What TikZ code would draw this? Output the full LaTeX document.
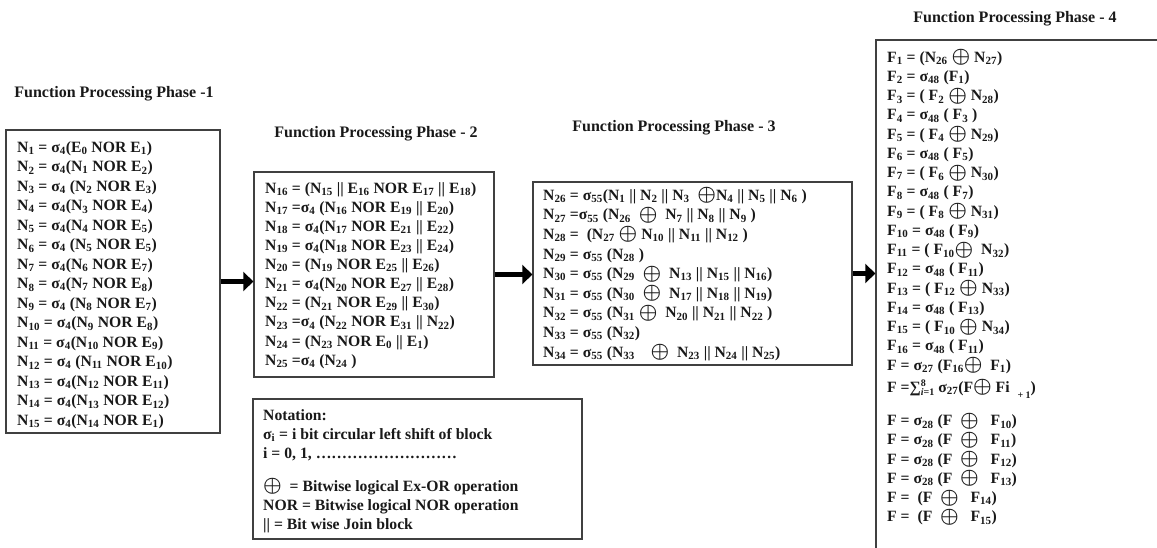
\documentclass[tikz,border=0pt]{standalone}
\usepackage{fontspec}
\setmainfont{Liberation Serif}
\usetikzlibrary{arrows.meta}
\newcommand\dn[1]{\textsubscript{#1}}
\newcommand\xop{\smash{\raisebox{-0.5pt}{\scalebox{1.45}{\boldmath$\oplus$}}}}
\newcommand\fl{\rule{0pt}{11pt}}
\newcommand\sumsign{∑\rlap{\raisebox{5.5pt}{\fontsize{10}{10}\selectfont 8}}\raisebox{-3pt}{\fontsize{10}{10}\selectfont\textit{i}=1}}
\begin{document}
\begin{tikzpicture}[x=1pt,y=-1pt,
  box/.style={draw=black!75, line width=1.3pt, inner sep=0pt},
  txt/.style={anchor=north west, inner sep=0pt, align=left, text=black!90,
    font=\fontsize{15.7}{#1}\selectfont\bfseries},
  txt/.default=19.5,
  ttl/.style={anchor=base, inner sep=0pt, text=black!90, font=\fontsize{16}{18}\selectfont\bfseries},
  fat/.style={line width=5pt, draw=black, -{Triangle[length=10pt,width=19pt]}}]
\useasboundingbox (0,0) rectangle (1157,548);

% titles
\node[ttl] (t1) at (114,98) {Function Processing Phase -1};
\node[ttl] (t2) at (376,138) {Function Processing Phase - 2};
\node[ttl] (t3) at (674,132) {Function Processing Phase - 3};
\node[ttl] (t4) at (1015,23) {Function Processing Phase - 4};

% boxes
\node[box, minimum width=214pt, minimum height=303pt] (b1) at (113,281.5) {};
\node[box, minimum width=240pt, minimum height=205pt] (b2) at (374,274.5) {};
\node[box, minimum width=329pt, minimum height=140pt] (bn) at (417.5,469) {};
\node[box, minimum width=319pt, minimum height=183pt] (b3) at (692.5,273.5) {};
\node[box, minimum width=300pt, minimum height=530pt] (b4) at (1026,305) {};

% phase 1 text
\node[txt] (x1) at (17,141) {\fl N\dn{1} = σ\dn{4}(E\dn{0} NOR E\dn{1})\\
N\dn{2} = σ\dn{4}(N\dn{1} NOR E\dn{2})\\
N\dn{3} = σ\dn{4} (N\dn{2} NOR E\dn{3})\\
N\dn{4} = σ\dn{4}(N\dn{3} NOR E\dn{4})\\
N\dn{5} = σ\dn{4}(N\dn{4} NOR E\dn{5})\\
N\dn{6} = σ\dn{4} (N\dn{5} NOR E\dn{5})\\
N\dn{7} = σ\dn{4}(N\dn{6} NOR E\dn{7})\\
N\dn{8} = σ\dn{4}(N\dn{7} NOR E\dn{8})\\
N\dn{9} = σ\dn{4} (N\dn{8} NOR E\dn{7})\\
N\dn{10} = σ\dn{4}(N\dn{9} NOR E\dn{8})\\
N\dn{11} = σ\dn{4}(N\dn{10} NOR E\dn{9})\\
N\dn{12} = σ\dn{4} (N\dn{11} NOR E\dn{10})\\
N\dn{13} = σ\dn{4}(N\dn{12} NOR E\dn{11})\\
N\dn{14} = σ\dn{4}(N\dn{13} NOR E\dn{12})\\
N\dn{15} = σ\dn{4}(N\dn{14} NOR E\dn{1})};

% phase 2 text
\node[txt=19.1] (x2) at (265,182) {\fl N\dn{16} = (N\dn{15} || E\dn{16} NOR E\dn{17} || E\dn{18})\\
N\dn{17} =σ\dn{4} (N\dn{16} NOR E\dn{19} || E\dn{20})\\
N\dn{18} = σ\dn{4}(N\dn{17} NOR E\dn{21} || E\dn{22})\\
N\dn{19} = σ\dn{4}(N\dn{18} NOR E\dn{23} || E\dn{24})\\
N\dn{20} = (N\dn{19} NOR E\dn{25} || E\dn{26})\\
N\dn{21} = σ\dn{4}(N\dn{20} NOR E\dn{27} || E\dn{28})\\
N\dn{22} = (N\dn{21} NOR E\dn{29} || E\dn{30})\\
N\dn{23} =σ\dn{4} (N\dn{22} NOR E\dn{31} || N\dn{22})\\
N\dn{24} = (N\dn{23} NOR E\dn{0} || E\dn{1})\\
N\dn{25} =σ\dn{4} (N\dn{24} )};

% notation text
\node[txt=19] (xn) at (263,409) {\fl Notation:\\
σ\dn{i} = i bit circular left shift of block\\
i = 0, 1, ………………………\\[14pt]
\xop\ \ = Bitwise logical Ex-OR operation\\
NOR = Bitwise logical NOR operation\\
|| = Bit wise Join block};

% phase 3 text
\node[txt=19.6] (x3) at (543,189) {\fl N\dn{26} = σ\dn{55}(N\dn{1} || N\dn{2} || N\dn{3} \ \xop N\dn{4} || N\dn{5} || N\dn{6} )\\
N\dn{27} =σ\dn{55} (N\dn{26} \ \xop\ \ N\dn{7} || N\dn{8} || N\dn{9} )\\
N\dn{28} = \ (N\dn{27} \xop\ N\dn{10} || N\dn{11} || N\dn{12} )\\
N\dn{29} = σ\dn{55} (N\dn{28} )\\
N\dn{30} = σ\dn{55} (N\dn{29} \ \xop\ \ N\dn{13} || N\dn{15} || N\dn{16})\\
N\dn{31} = σ\dn{55} (N\dn{30} \ \xop\ \ N\dn{17} || N\dn{18} || N\dn{19})\\
N\dn{32} = σ\dn{55} (N\dn{31} \xop\ \ N\dn{20} || N\dn{21} || N\dn{22} )\\
N\dn{33} = σ\dn{55} (N\dn{32})\\
N\dn{34} = σ\dn{55} (N\dn{33} \ \ \ \xop\ \ N\dn{23} || N\dn{24} || N\dn{25})};

% phase 4 text
\node[txt=19.25] (x4) at (887,51) {\fl F\dn{1} = (N\dn{26} \xop\ N\dn{27})\\
F\dn{2} = σ\dn{48} (F\dn{1})\\
F\dn{3} = ( F\dn{2} \xop\ N\dn{28})\\
F\dn{4} = σ\dn{48} ( F\dn{3} )\\
F\dn{5} = ( F\dn{4} \xop\ N\dn{29})\\
F\dn{6} = σ\dn{48} ( F\dn{5})\\
F\dn{7} = ( F\dn{6} \xop\ N\dn{30})\\
F\dn{8} = σ\dn{48} ( F\dn{7})\\
F\dn{9} = ( F\dn{8} \xop\ N\dn{31})\\
F\dn{10} = σ\dn{48} ( F\dn{9})\\
F\dn{11} = ( F\dn{10}\xop\ \ N\dn{32})\\
F\dn{12} = σ\dn{48} ( F\dn{11})\\
F\dn{13} = ( F\dn{12} \xop\ N\dn{33})\\
F\dn{14} = σ\dn{48} ( F\dn{13})\\
F\dn{15} = ( F\dn{10} \xop\ N\dn{34})\\
F\dn{16} = σ\dn{48} ( F\dn{11})\\
F = σ\dn{27} (F\dn{16}\xop\ \ F\dn{1})\\[3pt]
F =\sumsign\ σ\dn{27}(F\xop\ Fi \ \raisebox{-6pt}{\fontsize{10}{10}\selectfont + 1})\\[14pt]
F = σ\dn{28} (F \ \xop\ \ \ F\dn{10})\\
F = σ\dn{28} (F \ \xop\ \ \ F\dn{11})\\
F = σ\dn{28} (F \ \xop\ \ \ F\dn{12})\\
F = σ\dn{28} (F \ \xop\ \ \ F\dn{13})\\
F = \ (F \ \xop\ \ \ F\dn{14})\\
F = \ (F \ \xop\ \ \ F\dn{15})};

% arrows
\draw[fat] (b1.east) -- (b1.east -| b2.west);
\draw[fat] (b2.east) -- (b2.east -| b3.west);
\draw[fat] (b3.east) -- (b3.east -| b4.west);
\end{tikzpicture}
\end{document}
